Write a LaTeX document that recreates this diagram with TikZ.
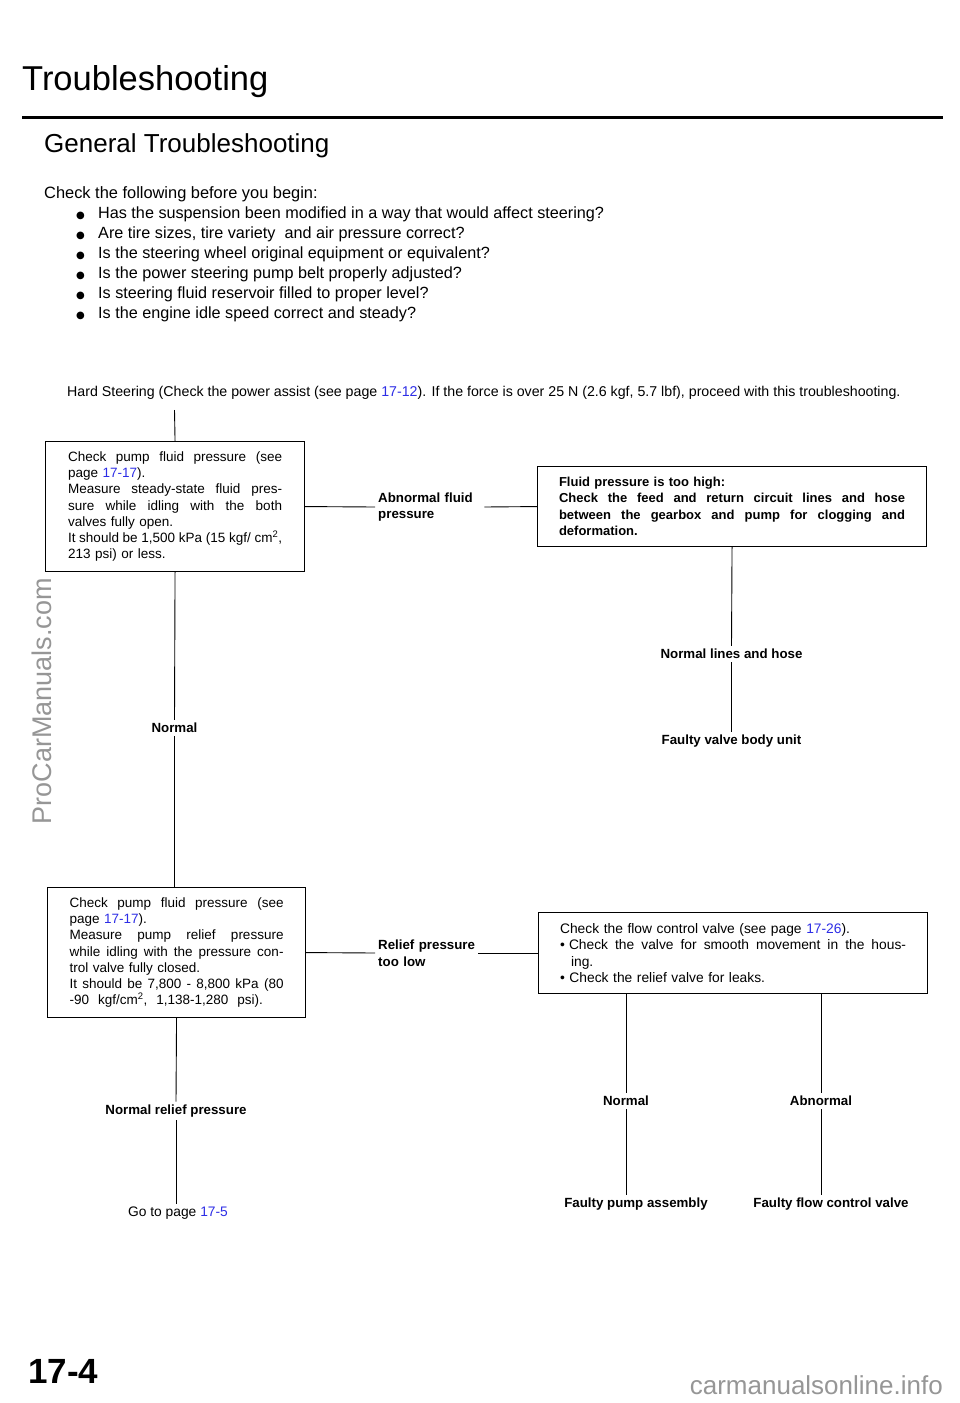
\documentclass[tikz,border=0pt]{standalone}
\usepackage{fontspec}
\setmainfont{Liberation Sans}
\newfontfamily\dejavu{DejaVu Sans}
\definecolor{pageblue}{RGB}{45,45,230}
\definecolor{wmgray}{RGB}{150,150,150}
\newcommand{\pg}[1]{\textcolor{pageblue}{#1}}
\newcommand{\jL}[1]{\leavevmode\hbox to 214pt{\spaceskip=0.25em plus 1fil\relax #1}}
\newcommand{\jR}[1]{\leavevmode\hbox to 346pt{\spaceskip=0.25em plus 1fil\relax #1}}
\newcommand{\boxfont}{\fontsize{13.5}{16.2}\selectfont}
\newcommand{\boxfontR}{\fontsize{13.8}{16.2}\selectfont}
\newcommand{\boldboxfont}{\bfseries\fontsize{13}{16.5}\selectfont}
\newcommand{\lblfont}{\bfseries\fontsize{13.3}{16.5}\selectfont}
\newcommand{\bul}{\makebox[22pt][l]{\dejavu\fontsize{10}{10}\selectfont ●}}
\tikzset{
  box/.style={draw, line width=1.1pt, align=left, anchor=north west, inner ysep=0pt},
  boxL/.style={box, font=\boxfont, text width=214pt, minimum width=259pt, minimum height=130pt, inner xsep=22.5pt},
  boxR/.style={box, text width=346pt, minimum width=389pt, minimum height=80pt, inner xsep=21.5pt},
  conn/.style={line width=0.9pt},
  lbl/.style={font=\lblfont, inner sep=3pt, align=left},
  txt/.style={inner sep=0pt, anchor=base west},
}
\begin{document}
\begin{tikzpicture}[x=1pt,y=-1pt]
\useasboundingbox (0,0) rectangle (960,1403);
\fill[white] (0,0) rectangle (960,1403);

% headings
\node[txt, font=\fontsize{34.5}{34.5}\selectfont] (title) at (22,90) {Troubleshooting};
\draw[line width=3pt] (22,117) -- (943,117);
\node[txt, font=\fontsize{26}{26}\selectfont] (gen) at (44,152) {General Troubleshooting};

\node[txt, font=\fontsize{16.4}{16.4}\selectfont] (chk) at (44,198) {Check the following before you begin:};
\begin{scope}[every node/.style={txt, font=\fontsize{16.2}{16.2}\selectfont}]
\node (b1) at (76,218) {\bul Has the suspension been modified in a way that would affect steering?};
\node (b2) at (76,238) {\bul Are tire sizes, tire variety\ \ and air pressure correct?};
\node (b3) at (76,258) {\bul Is the steering wheel original equipment or equivalent?};
\node (b4) at (76,278) {\bul Is the power steering pump belt properly adjusted?};
\node (b5) at (76,298) {\bul Is steering fluid reservoir filled to proper level?};
\node (b6) at (76,318) {\bul Is the engine idle speed correct and steady?};
\end{scope}

\node[txt, font=\fontsize{14.2}{14.2}\selectfont] (hard) at (67,396) {Hard Steering (Check the power assist (see page \pg{17-12}). If the force is over 25 N (2.6 kgf, 5.7 lbf), proceed with this troubleshooting.};

% boxes
\node[boxL] (box1) at (45,441) {%
\jL{Check pump fluid pressure (see}\\
page \pg{17-17}).\\
\jL{Measure steady-state fluid pres-}\\
\jL{sure while idling with the both}\\
valves fully open.\\
\jL{It should be 1,500 kPa (15 kgf/ cm\textsuperscript{2},}\\
213 psi) or less.};

\node[boxR, font=\boldboxfont] (box2) at (537,466) {%
Fluid pressure is too high:\\
\jR{Check the feed and return circuit lines and hose}\\
\jR{between the gearbox and pump for clogging and}\\
deformation.};

\node[boxL, minimum width=258pt, inner xsep=22pt] (box3) at (47,887) {%
\jL{Check pump fluid pressure (see}\\
page \pg{17-17}).\\
\jL{Measure pump relief pressure}\\
\jL{while idling with the pressure con-}\\
trol valve fully closed.\\
\jL{It should be 7,800 - 8,800 kPa (80}\\
-90\ \ kgf/cm\textsuperscript{2},\ \ 1,138-1,280\ \ psi).};

\node[boxR, font=\boxfontR, minimum height=81pt] (box4) at (538,912) {%
Check the flow control valve (see page \pg{17-26}).\\
\jR{•\hspace{0.3em}Check the valve for smooth movement in the hous-}\\
\hspace*{11pt}ing.\\
• Check the relief valve for leaks.};

% labels
\node[lbl, anchor=west, text width=103pt] (afp) at (375,507) {Abnormal fluid\\pressure};
\node[lbl, anchor=west, text width=97pt] (rpl) at (375,953) {Relief pressure\\too low};
\node[lbl] (nlh) at (731.5,654) {Normal lines and hose};
\node[lbl] (fvb) at (731.5,741) {Faulty valve body unit};
\node[lbl] (n1) at (174.5,728) {Normal};
\node[lbl] (n2) at (176,1111) {Normal relief pressure};
\node[inner sep=3pt, font=\fontsize{13.8}{13.8}\selectfont] (goto) at (178,1213) {Go to page \pg{17-5}};
\node[lbl] (nrm) at (626,1101) {Normal};
\node[lbl] (abn) at (821,1101) {Abnormal};
\node[lbl] (fpa) at (636,1204) {Faulty pump assembly};
\node[lbl] (ffc) at (831,1204) {Faulty flow control valve};

% connectors
\coordinate (start) at (174.5,410);
\draw[conn] (start) -- (box1.north);
\draw[conn] (box1.east) -- (afp.west);
\draw[conn] (afp.east) -- (box2.west);
\draw[conn] (box2.south) -- (nlh.north);
\draw[conn] (nlh.south) -- (fvb.north);
\draw[conn] (box1.south) -- (n1.north);
\draw[conn] (n1.south) -- (n1.south |- box3.north);
\draw[conn] (box3.east) -- (rpl.west);
\draw[conn] (rpl.east) -- (rpl.east -| box4.west);
\draw[conn] (box3.south) -- (n2.north);
\draw[conn] (n2.south) -- (n2.south |- goto.north);
\draw[conn] (nrm.north) -- (nrm.north |- box4.south);
\draw[conn] (abn.north) -- (abn.north |- box4.south);
\draw[conn] (nrm.south) -- (nrm.south |- fpa.north);
\draw[conn] (abn.south) -- (abn.south |- ffc.north);

% watermarks and page number
\node[rotate=90, text=wmgray, font=\fontsize{27}{27}\selectfont, inner sep=0pt] (wm) at (42,701) {ProCarManuals.com};
\node[txt, font=\bfseries\fontsize{35}{35}\selectfont] (pnum) at (28,1383) {17-4};
\node[inner sep=0pt, anchor=base east, text=wmgray, font=\fontsize{26}{26}\selectfont] (site) at (943,1394) {carmanualsonline.info};
\end{tikzpicture}
\end{document}
